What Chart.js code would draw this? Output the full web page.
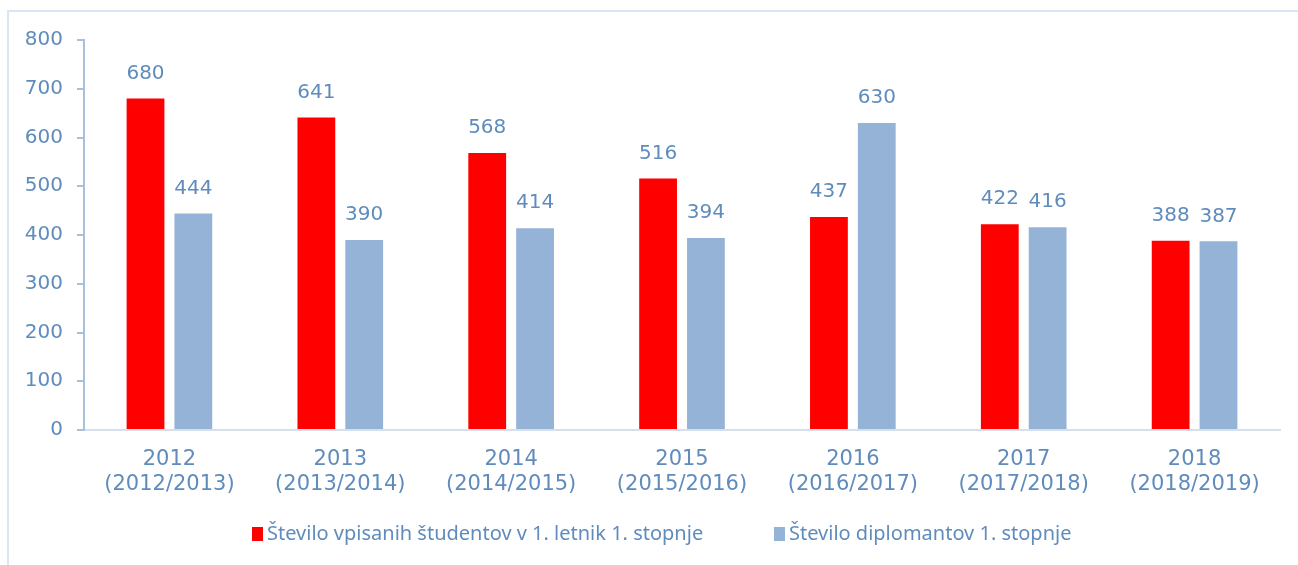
<!DOCTYPE html>
<html>
<head>
<meta charset="utf-8">
<script src="https://cdn.jsdelivr.net/npm/chart.js@4/dist/chart.umd.min.js"></script>
<style>
  html, body { margin: 0; padding: 0; background: #fff; }
  #frame { position: absolute; left: 7px; top: 10px; width: 1400px; height: 700px;
           border-left: 2px solid #dce6f2; border-top: 2px solid #dce6f2; }
  #wrap { position: absolute; left: 0; top: 0; width: 1298px; height: 565px; }
</style>
</head>
<body>
<div id="frame"></div>
<div id="wrap"><canvas id="createChart"></canvas></div>
<script>
// chart data
var years = ['2012', '2013', '2014', '2015', '2016', '2017', '2018'];
var terms = ['(2012/2013)', '(2013/2014)', '(2014/2015)', '(2015/2016)', '(2016/2017)', '(2017/2018)', '(2018/2019)'];
var enrolled = [680, 641, 568, 516, 437, 422, 388];
var graduates = [444, 390, 414, 394, 630, 416, 387];
var seriesNames = ['Število vpisanih študentov v 1. letnik 1. stopnje', 'Število diplomantov 1. stopnje'];
var yTicks = [0, 100, 200, 300, 400, 500, 600, 700, 800];

var textColor = '#5f8cbd';
var numFont = 'DejaVu Sans';

var labels = years.map(function(y, i) { return [y, terms[i]]; });

// draws the value above every bar
var valueLabels = {
    id: 'valueLabels',
    afterDatasetsDraw: function(chart) {
        var ctx = chart.ctx;
        ctx.save();
        ctx.font = '20px "' + numFont + '"';
        ctx.fillStyle = textColor;
        ctx.textAlign = 'center';
        ctx.textBaseline = 'middle';
        chart.data.datasets.forEach(function(ds, di) {
            chart.getDatasetMeta(di).data.forEach(function(bar, i) {
                ctx.fillText(ds.data[i], bar.x, bar.y - 25);
            });
        });
        ctx.restore();
    }
};

// legend drawn by hand so the gap between the two items matches
var bottomLegend = {
    id: 'bottomLegend',
    afterDraw: function(chart) {
        var ctx = chart.ctx;
        var y = chart.chartArea.bottom + 104;
        var startX = [252, 774];
        ctx.save();
        ctx.font = '20px "Noto Sans"';
        ctx.textBaseline = 'middle';
        ctx.textAlign = 'left';
        chart.data.datasets.forEach(function(ds, di) {
            ctx.fillStyle = ds.backgroundColor;
            ctx.fillRect(startX[di], y - 7, 11, 14);
            ctx.fillStyle = textColor;
            ctx.fillText(ds.label, startX[di] + 15, y);
        });
        ctx.restore();
    }
};

function createChart() {
    var ctx = document.getElementById('createChart').getContext('2d');
    var myChart = new Chart(ctx, {
        type: 'bar',
        data: {
            labels: labels,
            datasets: [{
                label: seriesNames[0],
                data: enrolled,
                backgroundColor: '#ff0000',
                categoryPercentage: 0.56,
                barPercentage: 0.79
            }, {
                label: seriesNames[1],
                data: graduates,
                backgroundColor: '#95b3d7',
                categoryPercentage: 0.56,
                barPercentage: 0.79
            }]
        },
        options: {
            responsive: true,
            maintainAspectRatio: false,
            animation: false,
            layout: { padding: { top: 40, right: 18, bottom: 51, left: 0 } },
            plugins: {
                tooltip: { enabled: false },
                legend: { display: false }
            },
            scales: {
                x: {
                    grid: { display: false, drawTicks: false },
                    border: { color: '#d5e0ec', width: 2 },
                    ticks: {
                        color: textColor,
                        font: { family: numFont, size: 21 },
                        padding: 17,
                        maxRotation: 0
                    },
                    afterFit: function(scale) { scale.height = 84; }
                },
                y: {
                    min: 0,
                    max: 800,
                    afterBuildTicks: function(scale) {
                        scale.ticks = yTicks.map(function(v) { return { value: v }; });
                    },
                    grid: {
                        drawOnChartArea: false,
                        drawTicks: true,
                        tickLength: 7,
                        color: '#a7c0dc',
                        lineWidth: 2
                    },
                    border: { color: '#a7c0dc', width: 2 },
                    ticks: {
                        color: textColor,
                        font: { family: numFont, size: 20 },
                        padding: 14
                    },
                    afterFit: function(scale) { scale.width = 84; }
                }
            }
        },
        plugins: [valueLabels, bottomLegend]
    });
}

createChart();
</script>
</body>
</html>
